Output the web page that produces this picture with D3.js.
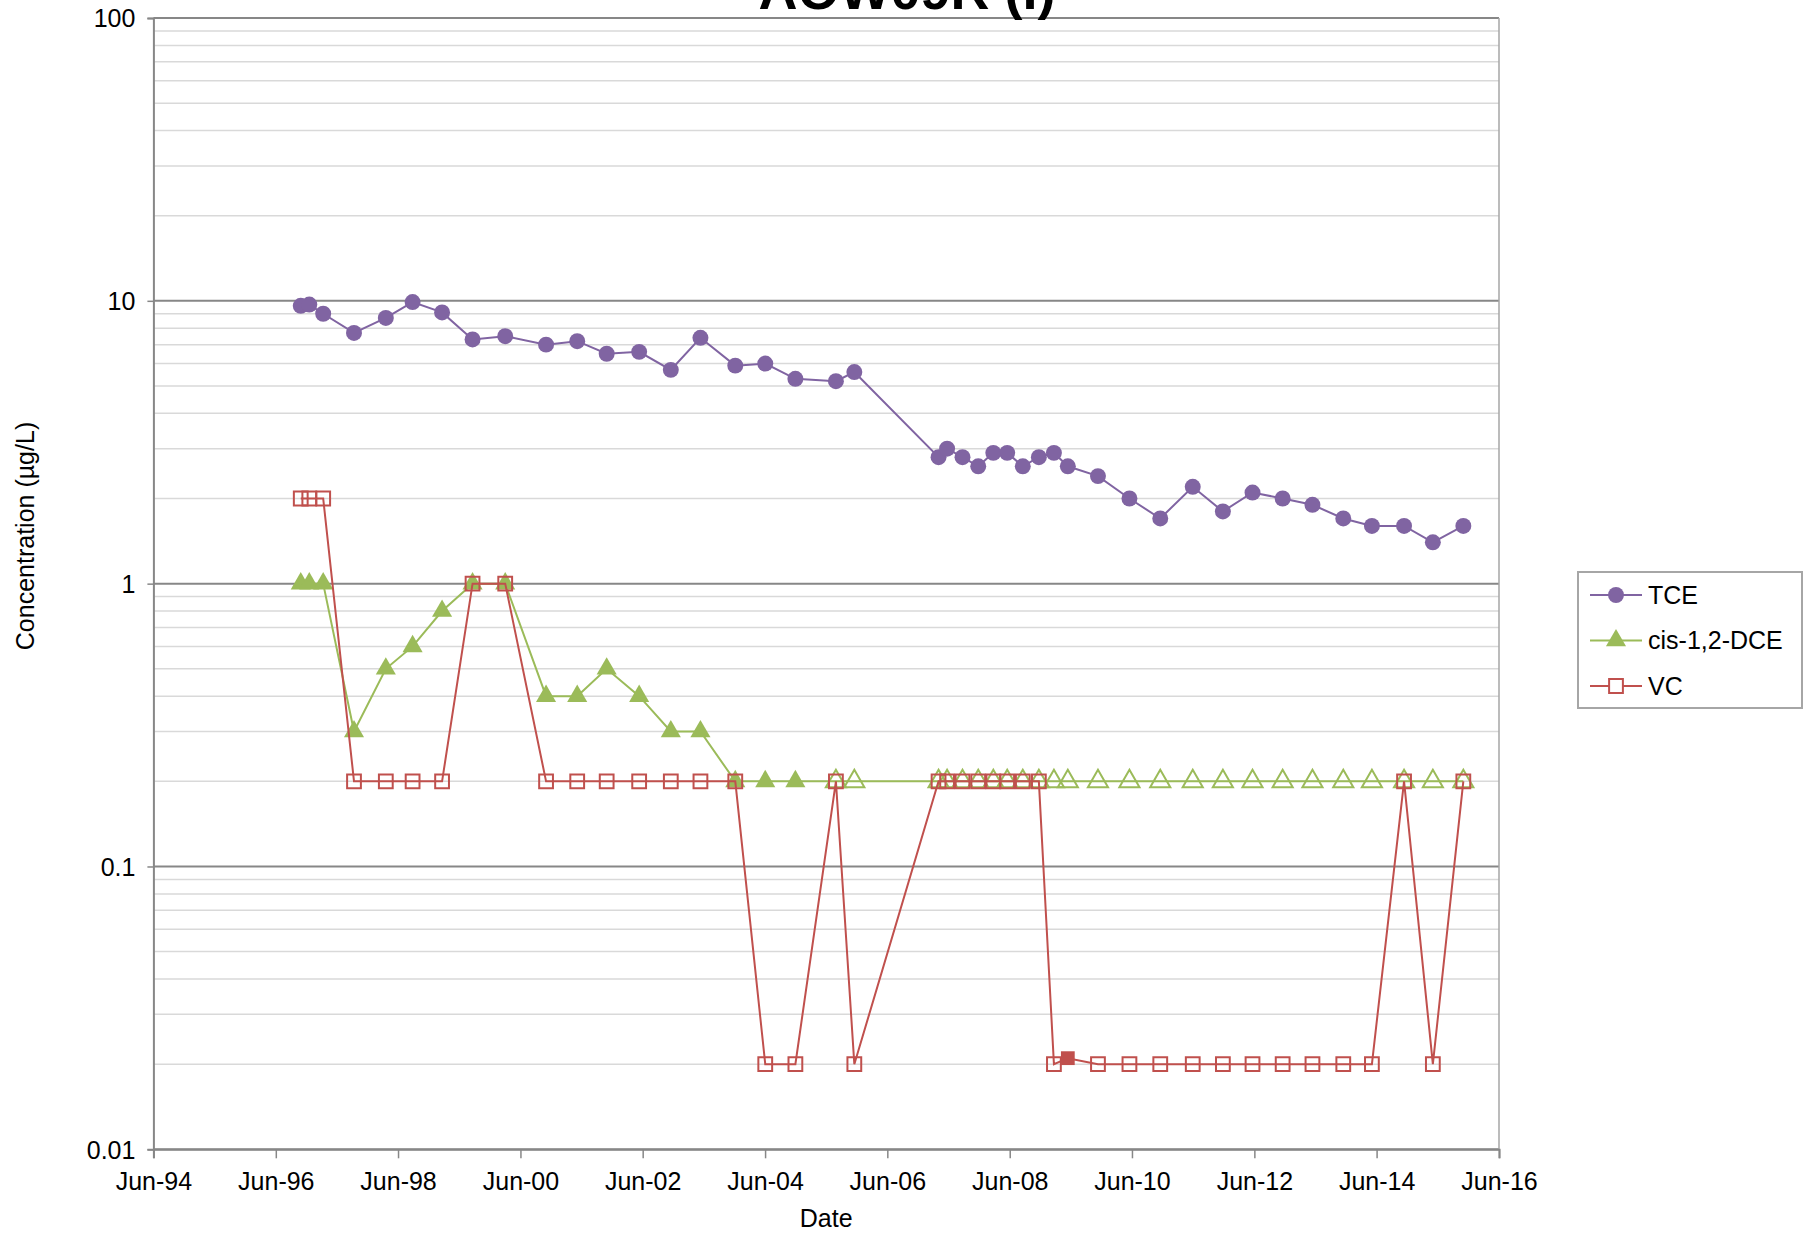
<!DOCTYPE html>
<html lang="en">
<head>
<meta charset="utf-8">
<title>AOW09R (I)</title>
<script src="https://cdn.jsdelivr.net/npm/d3@7"></script>
<style>
  body { margin: 0; background: #fff; }
  text { font-family: "Liberation Sans", Arial, sans-serif; fill: #000; }
</style>
</head>
<body>
<div id="vis"></div>
<script>
// sample dates shared by all three compounds
var sampleDates = [
  "1996-10-28", "1996-12-18", "1997-03-11", "1997-09-11", "1998-03-20", "1998-08-27",
  "1999-02-19", "1999-08-20", "2000-03-02", "2000-11-01", "2001-05-06", "2001-10-29",
  "2002-05-11", "2002-11-16", "2003-05-12", "2003-12-06", "2004-06-02", "2004-11-29",
  "2005-07-29", "2005-11-16", "2007-04-03", "2007-05-24", "2007-08-24", "2007-11-26",
  "2008-02-24", "2008-05-17", "2008-08-18", "2008-11-22", "2009-02-20", "2009-05-14",
  "2009-11-10", "2010-05-17", "2010-11-17", "2011-05-30", "2011-11-26", "2012-05-21",
  "2012-11-17", "2013-05-14", "2013-11-14", "2014-05-04", "2014-11-12", "2015-05-03",
  "2015-11-01"
];

var tceValues = [
  9.6, 9.7, 9.0, 7.7, 8.7, 9.9, 9.1, 7.3, 7.5, 7.0, 7.2, 6.5, 6.6, 5.7, 7.4, 5.9, 6.0, 5.3,
  5.2, 5.6, 2.8, 3.0, 2.8, 2.6, 2.9, 2.9, 2.6, 2.8, 2.9, 2.6, 2.4, 2.0, 1.7, 2.2, 1.8, 2.1,
  2.0, 1.9, 1.7, 1.6, 1.6, 1.4, 1.6
];

var dceValues = [
  1, 1, 1, 0.3, 0.5, 0.6, 0.8, 1, 1, 0.4, 0.4, 0.5, 0.4, 0.3, 0.3, 0.2, 0.2, 0.2,
  0.2, 0.2, 0.2, 0.2, 0.2, 0.2, 0.2, 0.2, 0.2, 0.2, 0.2, 0.2, 0.2, 0.2, 0.2, 0.2, 0.2, 0.2,
  0.2, 0.2, 0.2, 0.2, 0.2, 0.2, 0.2
];
// 1 = detected (filled marker), 0 = not detected (open marker)
var dceDetected = [
  1, 1, 1, 1, 1, 1, 1, 1, 1, 1, 1, 1, 1, 1, 1, 1, 1, 1,
  0, 0, 0, 0, 0, 0, 0, 0, 0, 0, 0, 0, 0, 0, 0, 0, 0, 0,
  0, 0, 0, 0, 0, 0, 0
];

var vcValues = [
  2, 2, 2, 0.2, 0.2, 0.2, 0.2, 1, 1, 0.2, 0.2, 0.2, 0.2, 0.2, 0.2, 0.2, 0.02, 0.02,
  0.2, 0.02, 0.2, 0.2, 0.2, 0.2, 0.2, 0.2, 0.2, 0.2, 0.02, 0.021, 0.02, 0.02, 0.02, 0.02, 0.02, 0.02,
  0.02, 0.02, 0.02, 0.02, 0.2, 0.02, 0.2
];
var vcDetected = [
  0, 0, 0, 0, 0, 0, 0, 0, 0, 0, 0, 0, 0, 0, 0, 0, 0, 0,
  0, 0, 0, 0, 0, 0, 0, 0, 0, 0, 0, 1, 0, 0, 0, 0, 0, 0,
  0, 0, 0, 0, 0, 0, 0
];

var seriesNames = ["TCE", "cis-1,2-DCE", "VC"];
var seriesColors = ["#8064A2", "#9BBB59", "#C0504D"];
var yTickValues = [0.01, 0.1, 1, 10, 100];
var xTickDates = ["1994-06-01", "1996-06-01", "1998-06-01", "2000-06-01", "2002-06-01", "2004-06-01",
                  "2006-06-01", "2008-06-01", "2010-06-01", "2012-06-01", "2014-06-01", "2016-06-01"];

var parseDate = d3.timeParse("%Y-%m-%d");
var fmtDate = d3.timeFormat("%b-%y");

var W = 1808, H = 1234;
var plot = { left: 153.4, right: 1499, top: 18, bottom: 1149.3 };

var svg = d3.select("#vis").append("svg").attr("width", W).attr("height", H);
svg.append("rect").attr("width", W).attr("height", H).attr("fill", "#fff");

var x = d3.scaleTime()
  .domain([parseDate(xTickDates[0]), parseDate(xTickDates[xTickDates.length - 1])])
  .range([plot.left, plot.right]);
var y = d3.scaleLog().domain([0.01, 100]).range([plot.bottom, plot.top]);

// gridlines: minor 2..9 in every decade, major on decades
var minorVals = [];
for (var d = 0; d < yTickValues.length - 1; d++) {
  for (var m = 2; m < 10; m++) minorVals.push(yTickValues[d] * m);
}
var grid = svg.append("g");
grid.selectAll("line.minor").data(minorVals).enter().append("line")
  .attr("class", "minor")
  .attr("x1", plot.left).attr("x2", plot.right)
  .attr("y1", function(v) { return y(v); }).attr("y2", function(v) { return y(v); })
  .attr("stroke", "#d9d9d9").attr("stroke-width", 1.5);
grid.selectAll("line.major").data(yTickValues).enter().append("line")
  .attr("class", "major")
  .attr("x1", plot.left).attr("x2", plot.right)
  .attr("y1", function(v) { return y(v); }).attr("y2", function(v) { return y(v); })
  .attr("stroke", "#878787").attr("stroke-width", 2);

// right border of plot area
svg.append("line")
  .attr("x1", plot.right).attr("x2", plot.right)
  .attr("y1", plot.top).attr("y2", plot.bottom)
  .attr("stroke", "#a6a6a6").attr("stroke-width", 1.5);

// axes
var yAxis = d3.axisLeft(y).tickValues(yTickValues).tickFormat(d3.format("~g")).tickSize(6).tickPadding(12);
var gy = svg.append("g").attr("transform", "translate(" + plot.left + ",0)").call(yAxis);
var xAxis = d3.axisBottom(x).tickValues(xTickDates.map(parseDate)).tickFormat(fmtDate).tickSize(9).tickPadding(14);
var gx = svg.append("g").attr("transform", "translate(0," + plot.bottom + ")").call(xAxis);
[gx, gy].forEach(function(g) {
  g.select(".domain").attr("stroke", "#878787").attr("stroke-width", 2);
  g.selectAll(".tick line").attr("stroke", "#878787").attr("stroke-width", 1.5);
  g.selectAll(".tick text").attr("font-size", 25).attr("font-family", "Liberation Sans, Arial, sans-serif").attr("fill", "#000");
});
gy.selectAll(".tick text").attr("dy", "0.35em");

// axis titles and chart title (title sits partly above the page edge, as in the source)
svg.append("text").attr("x", (plot.left + plot.right) / 2).attr("y", 1227)
  .attr("text-anchor", "middle").attr("font-size", 25).text("Date");
svg.append("text").attr("transform", "translate(34,536) rotate(-90)")
  .attr("text-anchor", "middle").attr("font-size", 25).text("Concentration (\u00b5g/L)");
svg.append("text").attr("x", 907).attr("y", 9)
  .attr("text-anchor", "middle").attr("font-size", 54).attr("font-weight", "bold").text("AOW09R (I)");

// series
var dates = sampleDates.map(parseDate);
var series = [
  { name: seriesNames[0], color: seriesColors[0], values: tceValues, filled: tceValues.map(function() { return 1; }), shape: d3.symbolCircle, size: 200 },
  { name: seriesNames[1], color: seriesColors[1], values: dceValues, filled: dceDetected, shape: d3.symbolTriangle, size: 175 },
  { name: seriesNames[2], color: seriesColors[2], values: vcValues, filled: vcDetected, shape: d3.symbolSquare, size: 190 }
];

var line = d3.line()
  .x(function(p) { return x(p.date); })
  .y(function(p) { return y(p.value); });

series.forEach(function(s) {
  var pts = dates.map(function(dt, i) { return { date: dt, value: s.values[i], filled: s.filled[i] }; });
  var g = svg.append("g");
  g.append("path").datum(pts).attr("d", line)
    .attr("fill", "none").attr("stroke", s.color).attr("stroke-width", 2);
  g.selectAll("path.mk").data(pts).enter().append("path")
    .attr("class", "mk")
    .attr("transform", function(p) { return "translate(" + x(p.date) + "," + y(p.value) + ")"; })
    .attr("d", d3.symbol(s.shape, s.size))
    .attr("fill", function(p) { return p.filled ? s.color : "none"; })
    .attr("stroke", s.color)
    .attr("stroke-width", function(p) { return p.filled ? 0 : 2; });
});

// legend
var lg = svg.append("g");
lg.append("rect").attr("x", 1578).attr("y", 572).attr("width", 224).attr("height", 136)
  .attr("fill", "#fff").attr("stroke", "#a6a6a6").attr("stroke-width", 2);
series.forEach(function(s, i) {
  var ly = 595 + i * 45.5;
  lg.append("line").attr("x1", 1590).attr("x2", 1642).attr("y1", ly).attr("y2", ly)
    .attr("stroke", s.color).attr("stroke-width", 2);
  lg.append("path").attr("transform", "translate(1616," + ly + ")")
    .attr("d", d3.symbol(s.shape, s.size))
    .attr("fill", i < 2 ? s.color : "#fff")
    .attr("stroke", s.color).attr("stroke-width", i < 2 ? 0 : 2);
  lg.append("text").attr("x", 1648).attr("y", ly).attr("dy", "0.35em")
    .attr("font-size", 25).text(s.name);
});
</script>
</body>
</html>
